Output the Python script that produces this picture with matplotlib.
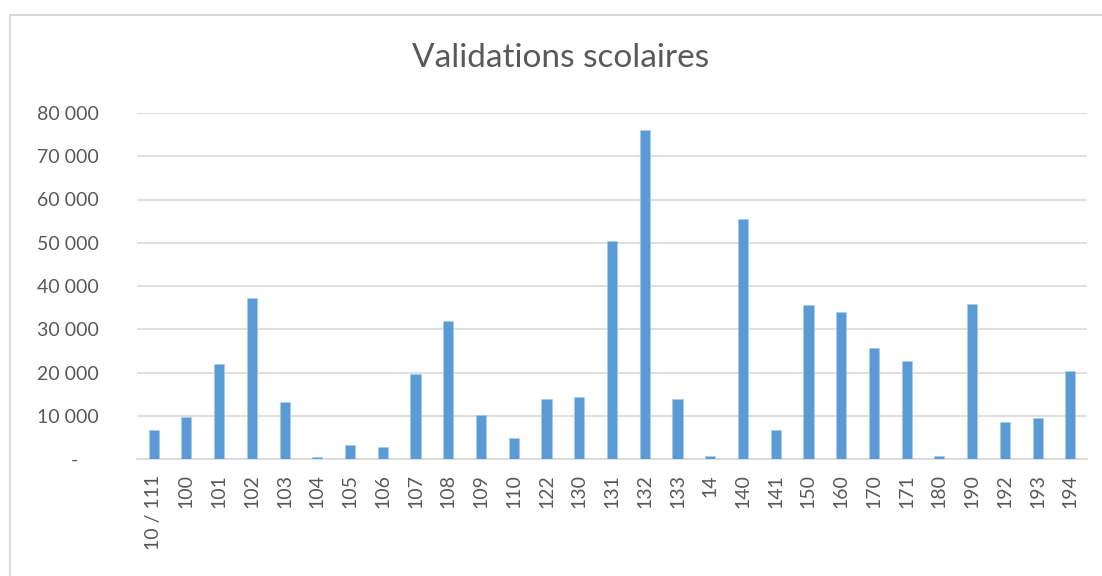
import matplotlib
matplotlib.use("Agg")
import matplotlib.pyplot as plt
from matplotlib.patches import Rectangle
from matplotlib.ticker import FuncFormatter, MultipleLocator

plt.rcParams['font.family'] = ['Lato', 'DejaVu Sans']

# Data

lignes = [
    "10 / 111", "100", "101", "102", "103", "104", "105", "106", "107",
    "108", "109", "110", "122", "130", "131", "132", "133", "14", "140",
    "141", "150", "160", "170", "171", "180", "190", "192", "193", "194"
]

validations = [
    6800, 9700, 21900, 37150, 13250, 540, 3300, 2850, 19700,
    31800, 10100, 4900, 13950, 14400, 50300, 76150, 13900, 700, 55500,
    6700, 35500, 34050, 25750, 22650, 770, 35900, 8550, 9550, 20400
]

titre = "Validations scolaires"

text_color = "#595959"
grid_color = "#d9d9d9"
bar_color = "#5b9bd5"

# Chart

fig = plt.figure(figsize=(11.02, 5.76), dpi=100)

# chart area border
fig.patches.append(Rectangle(
    (10 / 1102, -0.1), 1.2, 1 - 14.5 / 576 + 0.1,
    transform=fig.transFigure, fill=False,
    edgecolor=grid_color, linewidth=1.5
))

ax = fig.add_axes([137.3 / 1102, 1 - 459 / 576, 949.4 / 1102, 346 / 576])

x = range(len(lignes))
ax.bar(x, validations, width=0.31, color=bar_color,
       edgecolor="#a9c9ea", linewidth=0.4, zorder=3)

ax.set_xlim(-0.5, len(lignes) - 0.5)
ax.set_ylim(0, 80000)
ax.yaxis.set_major_locator(MultipleLocator(10000))


def fmt(v, pos):
    if v == 0:
        return "-    "
    return f"{int(v):,}".replace(",", " ")


ax.yaxis.set_major_formatter(FuncFormatter(fmt))
ax.set_xticks(list(x))
ax.set_xticklabels(lignes, rotation=90, va="top", ha="center")

ax.grid(axis="y", color=grid_color, linewidth=1.2, zorder=0)
for side in ["top", "right", "left"]:
    ax.spines[side].set_visible(False)
ax.spines["bottom"].set_color(grid_color)
ax.spines["bottom"].set_linewidth(1.2)

ax.tick_params(axis="both", length=0, labelsize=14, colors=text_color)
ax.tick_params(axis="y", pad=28)
ax.tick_params(axis="x", pad=11)

fig.text(0.509, 1 - 58 / 576, titre, ha="center", va="center",
         fontsize=24, color=text_color)

fig.savefig("out.png", dpi=100, facecolor="white")
